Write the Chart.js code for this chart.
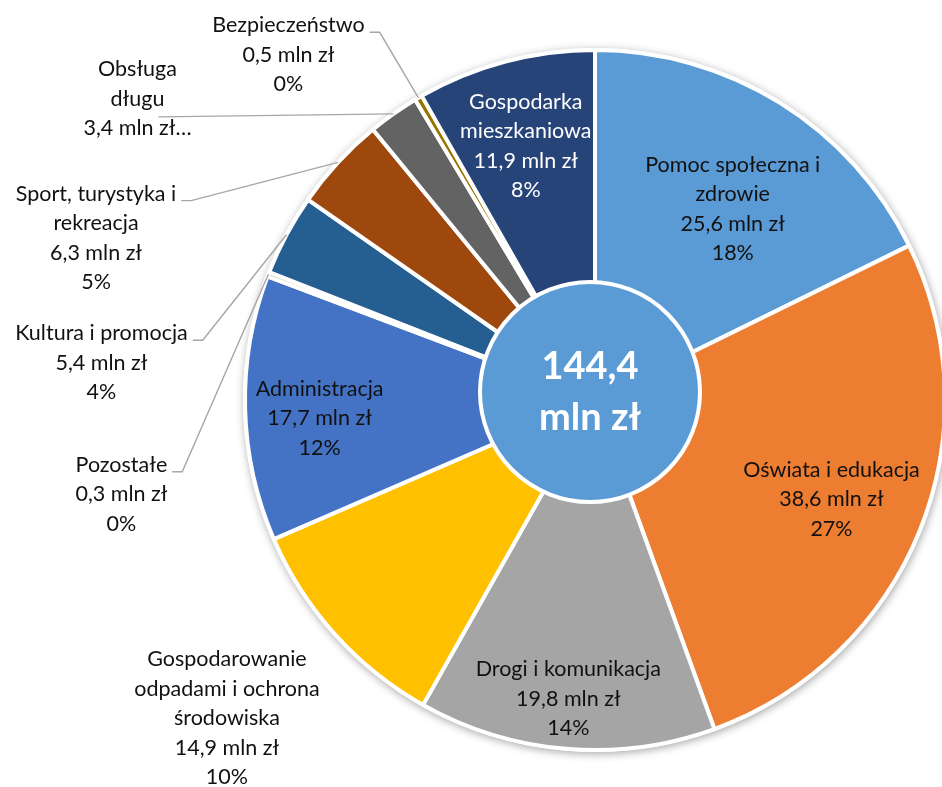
<!DOCTYPE html>
<html>
<head>
<meta charset="utf-8">
<script src="https://cdn.jsdelivr.net/npm/chart.js@4.4.1/dist/chart.umd.min.js"></script>
<style>
  html, body { margin: 0; padding: 0; background: #fff; overflow: hidden; }
  #wrap { width: 942px; height: 787px; }
</style>
</head>
<body>
<div id="wrap"><canvas id="budgetChart" width="942" height="787"></canvas></div>
<script>
// --- dane wykresu ---
const categories = [
  'Pomoc społeczna i zdrowie', 'Oświata i edukacja', 'Drogi i komunikacja',
  'Gospodarowanie odpadami i ochrona środowiska', 'Administracja', 'Pozostałe',
  'Kultura i promocja', 'Sport, turystyka i rekreacja', 'Obsługa długu',
  'Bezpieczeństwo', 'Gospodarka mieszkaniowa'
];
// nazwy połamane tak jak na etykietach
const categoryLines = [
  ['Pomoc społeczna i', 'zdrowie'], ['Oświata i edukacja'], ['Drogi i komunikacja'],
  ['Gospodarowanie', 'odpadami i ochrona', 'środowiska'], ['Administracja'], ['Pozostałe'],
  ['Kultura i promocja'], ['Sport, turystyka i', 'rekreacja'], ['Obsługa', 'długu'],
  ['Bezpieczeństwo'], ['Gospodarka', 'mieszkaniowa']
];
const values = [25.6, 38.6, 19.8, 14.9, 17.7, 0.3, 5.4, 6.3, 3.4, 0.5, 11.9];
const shares = ['18%', '27%', '14%', '10%', '12%', '0%', '4%', '5%', '2%', '0%', '8%'];
const totalLines = ['144,4', 'mln zł'];

const colors = ['#5B9BD5', '#ED7D31', '#A5A5A5', '#FFC000', '#4472C4', '#70AD47',
                '#255E91', '#9E480E', '#636363', '#997300', '#264478'];

// położenie etykiet: r = ułamek promienia, dx/dy = przesunięcie
const labelPos = [
  { r: 0.75, dx: -1, dy: 32 },
  { r: 0.75, dx: -7, dy: 1 },
  { r: 0.75, dx: -5, dy: 37 },
  { r: 1, dx: -108, dy: 84 },
  { r: 0.75, dx: -13, dy: 12 },
  { r: 1, dx: -147, dy: 220, leader: 'side' },
  { r: 1, dx: -185, dy: 128, leader: 'side' },
  { r: 1, dx: -242, dy: 75.5, leader: 'side' },
  { r: 1, dx: -256, dy: -15, leader: 'under', truncated: true },
  { r: 1, dx: -130, dy: -43, leader: 'side' },
  { r: 0.75, dx: -2, dy: 0, color: '#ffffff' }
];

const FONT = '21.5px Lato, "Open Sans", sans-serif';
const LINE_H = 29.5;

function fmtValue(v) {
  return v.toFixed(1).replace('.', ',') + ' mln zł';
}

// cień pod całym kołem
const shadowPlugin = {
  id: 'pieShadow',
  beforeDatasetsDraw(chart) {
    const arc = chart.getDatasetMeta(0).data[0];
    const { x, y, outerRadius } = arc.getProps(['x', 'y', 'outerRadius'], true);
    const ctx = chart.ctx;
    ctx.save();
    ctx.shadowColor = 'rgba(0,0,0,0.35)';
    ctx.shadowBlur = 9;
    ctx.shadowOffsetX = 1;
    ctx.shadowOffsetY = 2;
    ctx.beginPath();
    ctx.arc(x, y, outerRadius + 2, 0, Math.PI * 2);
    ctx.fillStyle = '#ffffff';
    ctx.fill();
    ctx.restore();
  }
};

// kółko w środku + etykiety
const labelPlugin = {
  id: 'sliceLabels',
  afterDatasetsDraw(chart) {
    const ctx = chart.ctx;
    const meta = chart.getDatasetMeta(0);
    const first = meta.data[0].getProps(['x', 'y', 'outerRadius'], true);

    // środek z sumą
    const cx = first.x - 5, cy = first.y - 8;
    ctx.save();
    ctx.beginPath();
    ctx.arc(cx, cy, 110, 0, Math.PI * 2);
    ctx.fillStyle = '#5B9BD5';
    ctx.fill();
    ctx.lineWidth = 4;
    ctx.strokeStyle = '#ffffff';
    ctx.stroke();
    ctx.fillStyle = '#ffffff';
    ctx.font = 'bold 38px Lato, "Open Sans", sans-serif';
    ctx.textAlign = 'center';
    ctx.textBaseline = 'middle';
    ctx.fillText(totalLines[0], cx, cy - 25);
    ctx.fillText(totalLines[1], cx, cy + 26);
    ctx.restore();

    ctx.save();
    ctx.font = FONT;
    ctx.textAlign = 'center';
    ctx.textBaseline = 'middle';
    meta.data.forEach((arc, i) => {
      const p = arc.getProps(['x', 'y', 'startAngle', 'endAngle', 'outerRadius'], true);
      const cfg = labelPos[i];
      const mid = (p.startAngle + p.endAngle) / 2;
      const ax = p.x + Math.cos(mid) * p.outerRadius * cfg.r;
      const ay = p.y + Math.sin(mid) * p.outerRadius * cfg.r;
      const lx = ax + cfg.dx, ly = ay + cfg.dy;

      let lines = categoryLines[i].slice();
      if (cfg.truncated) {
        lines.push(fmtValue(values[i]) + '…');
      } else {
        lines.push(fmtValue(values[i]), shares[i]);
      }
      const n = lines.length;
      const top = ly - (n - 1) / 2 * LINE_H;

      // linie odniesienia
      if (cfg.leader) {
        const ex = p.x + Math.cos(mid) * p.outerRadius;
        const ey = p.y + Math.sin(mid) * p.outerRadius;
        ctx.beginPath();
        ctx.strokeStyle = '#A6A6A6';
        ctx.lineWidth = 1.4;
        ctx.moveTo(ex, ey);
        if (cfg.leader === 'side') {
          const right = lx + ctx.measureText(lines[0]).width / 2;
          const yy = top + 7;
          ctx.lineTo(right + 15, yy);
          ctx.lineTo(right + 5, yy);
        } else {
          const right = lx + ctx.measureText(lines[1]).width / 2;
          ctx.lineTo(right - 6, top + LINE_H + 18);
        }
        ctx.stroke();
      }

      ctx.fillStyle = cfg.color || '#111111';
      lines.forEach((t, k) => ctx.fillText(t, lx, top + k * LINE_H));
    });
    ctx.restore();
  }
};

const ctx = document.getElementById('budgetChart').getContext('2d');
new Chart(ctx, {
  type: 'pie',
  data: {
    labels: categories,
    datasets: [{
      data: values,
      backgroundColor: colors,
      borderColor: '#ffffff',
      borderWidth: 4,
      radius: 350
    }]
  },
  options: {
    responsive: false,
    animation: false,
    layout: { padding: { left: 248, right: 0, top: 13, bottom: 0 } },
    plugins: {
      legend: { display: false },
      tooltip: { enabled: false }
    }
  },
  plugins: [shadowPlugin, labelPlugin]
});
</script>
</body>
</html>
